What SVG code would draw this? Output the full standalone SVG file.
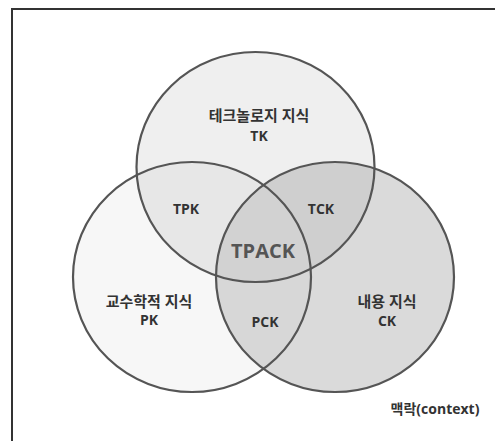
<svg xmlns="http://www.w3.org/2000/svg" width="495" height="441" viewBox="0 0 495 441">
  <style>
    .ring { fill: none; stroke: #555; stroke-width: 2.2; }
    .ko { font-family: "Open Sans", "Noto Sans CJK KR", sans-serif; font-size: 15px; font-weight: 600; fill: #333; text-anchor: middle; }
    .en { font-family: "Open Sans", "Noto Sans CJK KR", sans-serif; font-size: 14px; font-weight: 700; fill: #333; text-anchor: middle; }
    .big { font-family: "Open Sans", sans-serif; font-size: 20px; font-weight: 700; fill: #555; text-anchor: middle; }
  </style>
  <defs>
    <clipPath id="clipT"><ellipse cx="255.5" cy="167" rx="119" ry="115"/></clipPath>
    <clipPath id="clipP"><ellipse cx="192" cy="277" rx="119" ry="115"/></clipPath>
  </defs>
  <rect width="495" height="441" fill="#fff"/>
  <path d="M12 441 V9 H495" fill="none" stroke="#333" stroke-width="2"/>

  <g id="PK">
    <ellipse cx="192" cy="277" rx="119" ry="115" fill="#f7f7f7"/>
  </g>
  <g id="CK">
    <ellipse cx="335" cy="277" rx="119" ry="115" fill="#dadada"/>
  </g>
  <g id="TK">
    <ellipse cx="255.5" cy="167" rx="119" ry="115" fill="#efefef"/>
  </g>
  <g id="TPK">
    <ellipse cx="192" cy="277" rx="119" ry="115" fill="#e7e7e7" clip-path="url(#clipT)"/>
  </g>
  <g id="TCK">
    <ellipse cx="335" cy="277" rx="119" ry="115" fill="#cfcfcf" clip-path="url(#clipT)"/>
  </g>
  <g id="PCK">
    <ellipse cx="335" cy="277" rx="119" ry="115" fill="#d7d7d7" clip-path="url(#clipP)"/>
  </g>
  <g id="TPACK">
    <g clip-path="url(#clipP)">
      <ellipse cx="335" cy="277" rx="119" ry="115" fill="#d2d2d2" clip-path="url(#clipT)"/>
    </g>
  </g>

  <g id="connectors">
    <ellipse class="ring" cx="255.5" cy="167" rx="119" ry="115"/>
    <ellipse class="ring" cx="192" cy="277" rx="119" ry="115"/>
    <ellipse class="ring" cx="335" cy="277" rx="119" ry="115"/>
  </g>

  <g id="labels">
    <text class="ko" x="259" y="121">테크놀로지 지식</text>
    <text class="en" x="259" y="141">TK</text>
    <text class="en" x="186" y="214">TPK</text>
    <text class="en" x="321" y="214">TCK</text>
    <text class="big" x="263" y="258">TPACK</text>
    <text class="ko" x="149" y="307">교수학적 지식</text>
    <text class="en" x="149" y="325">PK</text>
    <text class="en" x="265" y="327">PCK</text>
    <text class="ko" x="387" y="307">내용 지식</text>
    <text class="en" x="387" y="326">CK</text>
    <text class="en" x="435" y="414">맥락(context)</text>
  </g>
</svg>
